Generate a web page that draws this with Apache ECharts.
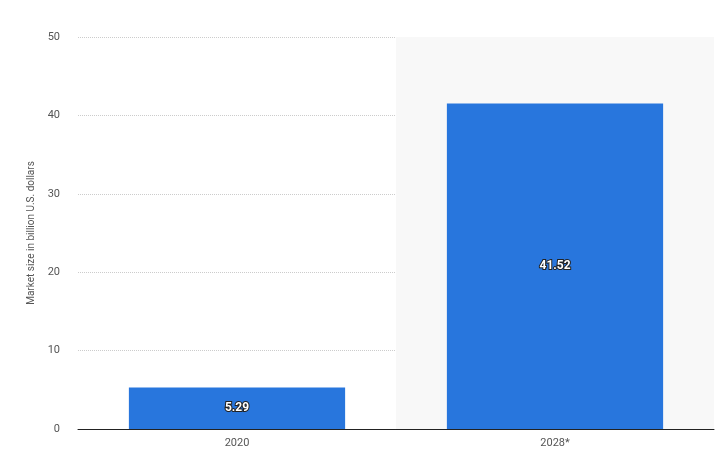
<!DOCTYPE html>
<html>
<head>
<meta charset="UTF-8">
<script src="https://cdn.jsdelivr.net/npm/echarts@6/dist/echarts.min.js"></script>
<style>body{margin:0;background:#fff}#c{width:726px;height:459px}</style>
</head>
<body>
<div id="c"></div>
<script>
  var categories = ['2020', '2028*'];
  var values = [5.29, 41.52];
  var yTicks = [0, 10, 20, 30, 40, 50];

  var chart = echarts.init(document.getElementById('c'));
  chart.setOption({
    animation: false,
    grid: { left: 78, right: 12, top: 37, bottom: 30 },
    xAxis: {
      type: 'category',
      data: categories,
      axisTick: { show: false },
      axisLine: { lineStyle: { color: '#222', width: 1 } },
      axisLabel: { color: '#555', fontSize: 11, fontFamily: 'Roboto', margin: 9 },
      splitArea: { show: true, areaStyle: { color: ['rgba(0,0,0,0)', '#f8f8f8'] } }
    },
    yAxis: {
      type: 'value',
      min: yTicks[0],
      max: yTicks[yTicks.length - 1],
      interval: 10,
      name: 'Market size in billion U.S. dollars',
      nameLocation: 'middle',
      nameGap: 40,
      nameTextStyle: { color: '#555', fontSize: 10, fontFamily: 'Roboto' },
      axisLabel: { color: '#555', fontSize: 11, fontFamily: 'Roboto', margin: 18 },
      splitLine: { lineStyle: { color: '#ccc', type: 'dotted' } }
    },
    series: [{
      type: 'bar',
      data: values,
      barWidth: '68%',
      itemStyle: { color: '#2876dd' },
      label: {
        show: true,
        position: 'inside',
        color: '#fff',
        fontWeight: 'bold',
        fontSize: 12,
        fontFamily: 'Roboto',
        textBorderColor: '#222',
        textBorderWidth: 2,
        formatter: function (p) { return p.value.toFixed(2); }
      }
    }]
  });
</script>
</body>
</html>
